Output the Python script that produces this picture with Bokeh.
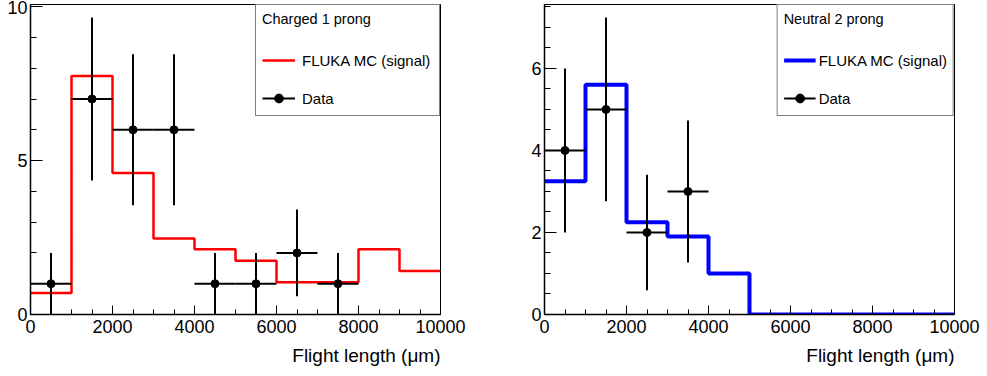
import numpy as np
from bokeh.plotting import figure
from bokeh.models import Range1d, Legend, LegendItem, Title, ColumnDataSource, FixedTicker
from bokeh.layouts import row
from bokeh.embed import file_html
from bokeh.resources import INLINE

# ---- data ----
bin_edges = [0, 1000, 2000, 3000, 4000, 5000, 6000, 7000, 8000, 9000, 10000]
x_major_ticks = [0, 2000, 4000, 6000, 8000, 10000]

charged_mc = [0.70, 7.75, 4.60, 2.47, 2.12, 1.75, 1.05, 1.05, 2.12, 1.41]
charged_x = [500, 1500, 2500, 3500, 4500, 5500, 6500, 7500]
charged_y = [1, 7, 6, 6, 1, 1, 2, 1]
charged_err = [1.0, 2.65, 2.45, 2.45, 1.0, 1.0, 1.41, 1.0]
charged_y_ticks = [0, 5, 10]

neutral_mc = [3.25, 5.60, 2.25, 1.90, 1.00, 0.0, 0.0, 0.0, 0.0, 0.0]
neutral_x = [500, 1500, 2500, 3500]
neutral_y = [4, 5, 2, 3]
neutral_err = [2.0, 2.24, 1.41, 1.73]
neutral_y_ticks = [0, 2, 4, 6]

x_half_bin = 500

FONT = "Liberation Sans"


def make_panel(width, left, right, ymax, y_major, y_minor, mc, mc_color, mc_width,
               dx, dy, derr, title, leg_glyph_w, leg_standoff, leg_label_w):
    p = figure(width=width, height=376, output_backend="svg", toolbar_location=None,
               x_range=Range1d(0, 10000), y_range=Range1d(0, ymax),
               min_border_left=left, min_border_right=right,
               min_border_top=4, min_border_bottom=62)
    p.background_fill_color = "white"
    p.border_fill_color = "white"
    p.outline_line_color = "black"
    p.outline_line_width = 1
    p.xgrid.visible = False
    p.ygrid.visible = False

    # axes in ROOT style (ticks inside)
    for ax in (p.xaxis[0], p.yaxis[0]):
        ax.axis_line_color = "black"
        ax.axis_line_width = 1.5
        ax.major_tick_line_color = "black"
        ax.minor_tick_line_color = "black"
        ax.major_tick_out = 0
        ax.minor_tick_out = 0
        ax.major_label_text_font = FONT
        ax.major_label_text_font_size = "18px"
        ax.major_label_text_color = "black"
    p.xaxis[0].ticker = FixedTicker(ticks=x_major_ticks,
                                    minor_ticks=list(range(0, 10001, 500)))
    p.yaxis[0].ticker = FixedTicker(ticks=y_major, minor_ticks=y_minor)
    p.xaxis[0].major_tick_in = 9
    p.xaxis[0].minor_tick_in = 5
    p.yaxis[0].major_tick_in = 12
    p.yaxis[0].minor_tick_in = 6
    p.xaxis[0].major_label_standoff = 5
    p.yaxis[0].major_label_standoff = 3

    # MC histogram as step line
    sx = list(bin_edges)
    sy = list(mc) + [mc[-1]]
    mc_r = p.step(sx, sy, mode="after", line_color=mc_color, line_width=mc_width)

    # data with error bars
    src = ColumnDataSource(dict(
        x=dx, y=dy,
        x0=[v - x_half_bin for v in dx], x1=[v + x_half_bin for v in dx],
        ylo=[max(0, v - e) for v, e in zip(dy, derr)],
        yhi=[v + e for v, e in zip(dy, derr)],
    ))
    p.segment(x0="x", y0="ylo", x1="x", y1="yhi", source=src,
              line_color="black", line_width=2)
    h_r = p.segment(x0="x0", y0="y", x1="x1", y1="y", source=src,
                    line_color="black", line_width=2)
    d_r = p.scatter(x="x", y="y", source=src, size=8, marker="circle",
                    fill_color="black", line_color="black")

    legend = Legend(items=[LegendItem(label="FLUKA MC (signal)", renderers=[mc_r]),
                           LegendItem(label="Data", renderers=[h_r, d_r])],
                    location="top_right", margin=0, padding=6,
                    title=title, title_text_font=FONT, title_text_font_size="14.5px",
                    title_text_font_style="normal", title_text_color="black",
                    title_standoff=22,
                    label_text_font=FONT, label_text_font_size="15px",
                    label_text_color="black",
                    glyph_width=leg_glyph_w, glyph_height=22, label_height=22,
                    label_standoff=leg_standoff, label_width=leg_label_w,
                    spacing=16, border_line_color="black", border_line_width=1,
                    background_fill_color="white", background_fill_alpha=1)
    p.add_layout(legend)

    t = Title(text="Flight length (μm)", align="right", text_font=FONT,
              text_font_size="19px", text_font_style="normal", text_color="black",
              standoff=14)
    p.add_layout(t, "below")
    return p


p1 = make_panel(493, 30, 53, 10.07, charged_y_ticks, list(range(0, 11)),
                charged_mc, "#ff0000", 2.5, charged_x, charged_y, charged_err,
                "Charged 1 prong", 33, 7, 131)
p2 = make_panel(494, 51, 33, 7.56, neutral_y_ticks, [i * 0.5 for i in range(16)],
                neutral_mc, "#0000ff", 4, neutral_x, neutral_y, neutral_err,
                "Neutral 2 prong", 32, 3, 120)

layout = row(p1, p2)
open("out.html", "w").write(file_html(layout, INLINE))
